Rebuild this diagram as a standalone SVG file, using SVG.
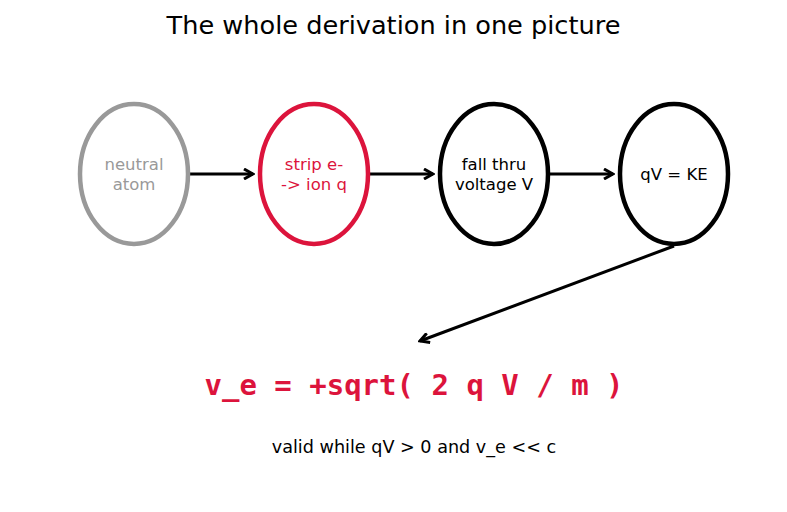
<svg xmlns="http://www.w3.org/2000/svg" width="787" height="512" viewBox="0 0 787 512">
<style>
text{font-family:"DejaVu Sans","Liberation Sans",sans-serif;text-anchor:middle}
.n{fill:#fff;stroke-width:4.5}
.lbl{font-size:16.5px}
.c line{stroke:#000;stroke-width:3;fill:none;marker-end:url(#ah)}
</style>
<defs>
<marker id="ah" viewBox="-10 -6 12 12" markerWidth="12" markerHeight="12" refX="0" refY="0" orient="auto" markerUnits="userSpaceOnUse">
<path d="M-9,-5 L0,0 L-9,5" fill="none" stroke="#000" stroke-width="3" stroke-linejoin="miter"/>
</marker>
</defs>
<rect width="787" height="512" fill="#fff"/>
<text x="393.5" y="34" font-size="25.6px">The whole derivation in one picture</text>
<g class="c">
<line x1="190" y1="174" x2="253" y2="174"/>
<line x1="370" y1="174" x2="433" y2="174"/>
<line x1="550" y1="174" x2="613" y2="174"/>
<line x1="674" y1="246" x2="420" y2="341"/>
</g>
<g id="n1"><ellipse class="n" cx="134" cy="174" rx="54" ry="70" stroke="#999"/><text class="lbl" fill="#999" x="134" y="170">neutral</text><text class="lbl" fill="#999" x="134" y="190">atom</text></g>
<g id="n2"><ellipse class="n" cx="314" cy="174" rx="54" ry="70" stroke="#DC143C"/><text class="lbl" fill="#DC143C" x="314" y="170">strip e-</text><text class="lbl" fill="#DC143C" x="314" y="190">-&gt; ion q</text></g>
<g id="n3"><ellipse class="n" cx="494" cy="174" rx="54" ry="70" stroke="#000"/><text class="lbl" x="494" y="170">fall thru</text><text class="lbl" x="494" y="190">voltage V</text></g>
<g id="n4"><ellipse class="n" cx="674" cy="174" rx="54" ry="70" stroke="#000"/><text class="lbl" x="674" y="180">qV = KE</text></g>
<text x="414" y="395" font-size="29px" font-weight="bold" fill="#DC143C" style="font-family:'DejaVu Sans Mono','Liberation Mono',monospace">v_e = +sqrt( 2 q V / m )</text>
<text x="414" y="453" font-size="17.6px">valid while qV &gt; 0 and v_e &lt;&lt; c</text>
</svg>
